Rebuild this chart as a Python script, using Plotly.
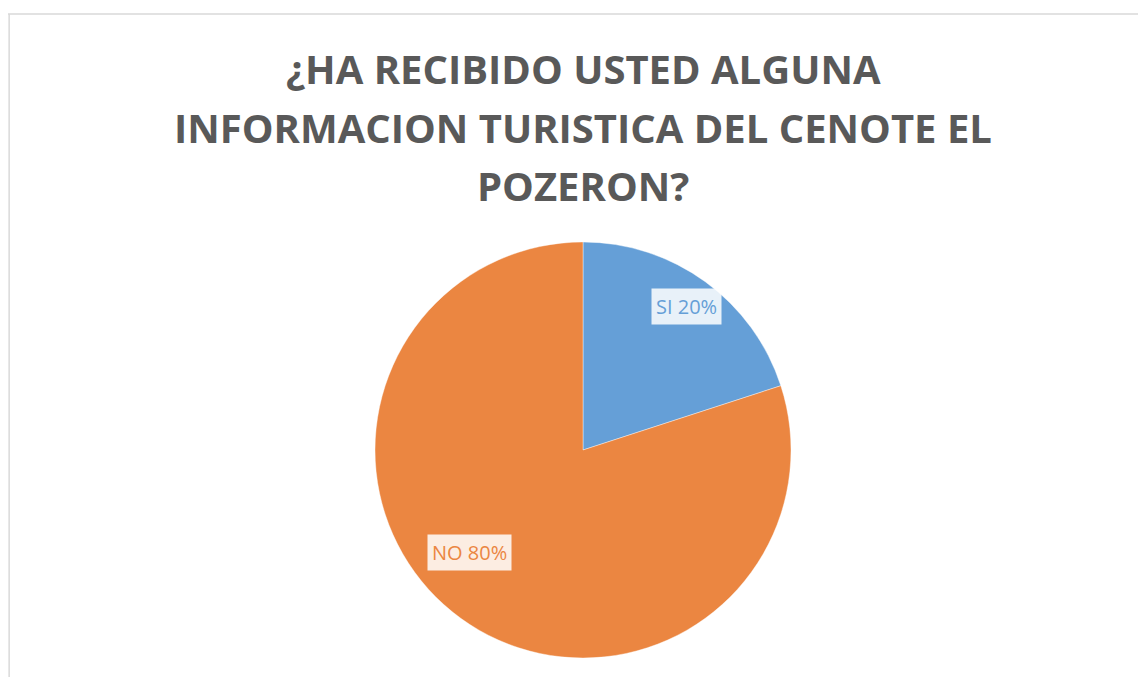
import math
import plotly.graph_objects as go

labels = ["SI", "NO"]
values = [20, 80]
colors = ["#659FD7", "#EB8641"]
title_lines = ["¿HA RECIBIDO USTED ALGUNA", "INFORMACION TURISTICA DEL CENOTE EL", "POZERON?"]

# page body has an 8px margin; work in screenshot pixels and shift
OFF = 8
W, H = 1146 - OFF, 677 - OFF


def px_x(x):
    return (x - OFF) / W


def px_y(y):
    return 1 - (y - OFF) / H


cx, cy, r = 583, 450, 208
dom_x = [px_x(cx - r), px_x(cx + r)]
dom_y = [px_y(cy + r), px_y(cy - r)]

fig = go.Figure()
fig.add_trace(go.Pie(
    labels=labels, values=values, sort=False, direction="clockwise", rotation=0,
    marker=dict(colors=colors, line=dict(color="rgba(255,255,255,0.4)", width=1)),
    textinfo="none", hoverinfo="label+percent", showlegend=False,
    domain=dict(x=dom_x, y=dom_y),
))

# label boxes positioned from slice mid-angles
total = sum(values)
start = 0.0
radial = [0.85, 0.72]
shifts = [0, -25]
for lab, v, c, rf, sh in zip(labels, values, colors, radial, shifts):
    mid = start + v / total * 360 / 2
    start += v / total * 360
    a = math.radians(mid)
    x = cx + rf * r * math.sin(a)
    y = cy - rf * r * math.cos(a)
    fig.add_annotation(
        x=px_x(x), y=px_y(y), xref="paper", yref="paper", xshift=sh,
        text=f"{lab} {round(v / total * 100)}%", showarrow=False,
        font=dict(family="Open Sans, Liberation Sans", size=20, color=c),
        bgcolor="rgba(255,255,255,0.85)", borderpad=4,
    )

# title, one line per annotation
for line, y in zip(title_lines, [68, 127, 185]):
    fig.add_annotation(
        x=px_x(583), y=px_y(y), xref="paper", yref="paper",
        text=f"<b>{line}</b>", showarrow=False, xanchor="center", yanchor="middle",
        font=dict(family="Open Sans, sans-serif", size=40, color="#595959"),
    )

fig.update_layout(
    width=W, height=H,
    paper_bgcolor="white", plot_bgcolor="white",
    margin=dict(l=0, r=0, t=0, b=0),
    shapes=[
        dict(type="line", xref="paper", yref="paper", x0=0, x1=1, y0=px_y(14), y1=px_y(14),
             line=dict(color="#D9D9D9", width=1.5)),
        dict(type="line", xref="paper", yref="paper", x0=0.001, x1=0.001, y0=0, y1=px_y(14),
             line=dict(color="#D9D9D9", width=1.5)),
    ],
)

fig.write_html("out.html")
